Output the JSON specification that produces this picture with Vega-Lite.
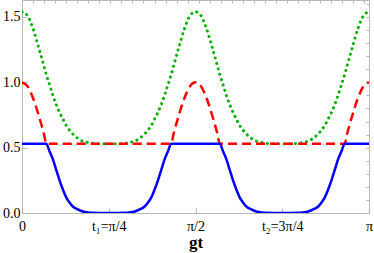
{
  "$schema": "https://vega.github.io/schema/vega-lite/v6.json",
  "width": 347,
  "height": 213,
  "autosize": "none",
  "padding": {"left": 22, "top": 0, "right": 5, "bottom": 40},
  "config": {
    "view": {"stroke": "#b8b8b8", "strokeWidth": 1},
    "axis": {"domain": false, "grid": false, "tickColor": "#b8b8b8", "labelFont": "Liberation Serif, serif", "labelFontSize": 14, "labelColor": "#000000", "titleFont": "Liberation Serif, serif", "titleColor": "#000000"}
  },
  "data": {"values": [
    {"t": 0, "b": 0.53, "r": 1.0, "g": 1.54},
    {"t": 0.05, "b": 0.53, "r": 0.97, "g": 1.51},
    {"t": 0.1, "b": 0.53, "r": 0.88, "g": 1.41},
    {"t": 0.15, "b": 0.53, "r": 0.75, "g": 1.27},
    {"t": 0.2, "b": 0.53, "r": 0.6, "g": 1.12},
    {"t": 0.22, "b": 0.53, "r": 0.53, "g": 1.06},
    {"t": 0.25, "b": 0.47, "r": 0.53, "g": 0.98},
    {"t": 0.28, "b": 0.41, "r": 0.53, "g": 0.9},
    {"t": 0.31, "b": 0.33, "r": 0.53, "g": 0.83},
    {"t": 0.34, "b": 0.25, "r": 0.53, "g": 0.77},
    {"t": 0.37, "b": 0.18, "r": 0.53, "g": 0.72},
    {"t": 0.4, "b": 0.12, "r": 0.53, "g": 0.67},
    {"t": 0.43, "b": 0.08, "r": 0.53, "g": 0.635},
    {"t": 0.46, "b": 0.05, "r": 0.53, "g": 0.605},
    {"t": 0.5, "b": 0.03, "r": 0.53, "g": 0.575},
    {"t": 0.55, "b": 0.012, "r": 0.53, "g": 0.55},
    {"t": 0.6, "b": 0.004, "r": 0.53, "g": 0.54},
    {"t": 0.65, "b": 0.001, "r": 0.53, "g": 0.532},
    {"t": 0.7, "b": 0, "r": 0.53, "g": 0.53},
    {"t": 0.7854, "b": 0, "r": 0.53, "g": 0.53},
    {"t": 0.8708, "b": 0, "r": 0.53, "g": 0.53},
    {"t": 0.9208, "b": 0.001, "r": 0.53, "g": 0.532},
    {"t": 0.9708, "b": 0.004, "r": 0.53, "g": 0.54},
    {"t": 1.0208, "b": 0.012, "r": 0.53, "g": 0.55},
    {"t": 1.0708, "b": 0.03, "r": 0.53, "g": 0.575},
    {"t": 1.1108, "b": 0.05, "r": 0.53, "g": 0.605},
    {"t": 1.1408, "b": 0.08, "r": 0.53, "g": 0.635},
    {"t": 1.1708, "b": 0.12, "r": 0.53, "g": 0.67},
    {"t": 1.2008, "b": 0.18, "r": 0.53, "g": 0.72},
    {"t": 1.2308, "b": 0.25, "r": 0.53, "g": 0.77},
    {"t": 1.2608, "b": 0.33, "r": 0.53, "g": 0.83},
    {"t": 1.2908, "b": 0.41, "r": 0.53, "g": 0.9},
    {"t": 1.3208, "b": 0.47, "r": 0.53, "g": 0.98},
    {"t": 1.3508, "b": 0.53, "r": 0.53, "g": 1.06},
    {"t": 1.3708, "b": 0.53, "r": 0.6, "g": 1.12},
    {"t": 1.4208, "b": 0.53, "r": 0.75, "g": 1.27},
    {"t": 1.4708, "b": 0.53, "r": 0.88, "g": 1.41},
    {"t": 1.5208, "b": 0.53, "r": 0.97, "g": 1.51},
    {"t": 1.5708, "b": 0.53, "r": 1.0, "g": 1.54},
    {"t": 1.6208, "b": 0.53, "r": 0.97, "g": 1.51},
    {"t": 1.6708, "b": 0.53, "r": 0.88, "g": 1.41},
    {"t": 1.7208, "b": 0.53, "r": 0.75, "g": 1.27},
    {"t": 1.7708, "b": 0.53, "r": 0.6, "g": 1.12},
    {"t": 1.7908, "b": 0.53, "r": 0.53, "g": 1.06},
    {"t": 1.8208, "b": 0.47, "r": 0.53, "g": 0.98},
    {"t": 1.8508, "b": 0.41, "r": 0.53, "g": 0.9},
    {"t": 1.8808, "b": 0.33, "r": 0.53, "g": 0.83},
    {"t": 1.9108, "b": 0.25, "r": 0.53, "g": 0.77},
    {"t": 1.9408, "b": 0.18, "r": 0.53, "g": 0.72},
    {"t": 1.9708, "b": 0.12, "r": 0.53, "g": 0.67},
    {"t": 2.0008, "b": 0.08, "r": 0.53, "g": 0.635},
    {"t": 2.0308, "b": 0.05, "r": 0.53, "g": 0.605},
    {"t": 2.0708, "b": 0.03, "r": 0.53, "g": 0.575},
    {"t": 2.1208, "b": 0.012, "r": 0.53, "g": 0.55},
    {"t": 2.1708, "b": 0.004, "r": 0.53, "g": 0.54},
    {"t": 2.2208, "b": 0.001, "r": 0.53, "g": 0.532},
    {"t": 2.2708, "b": 0, "r": 0.53, "g": 0.53},
    {"t": 2.3562, "b": 0, "r": 0.53, "g": 0.53},
    {"t": 2.4416, "b": 0, "r": 0.53, "g": 0.53},
    {"t": 2.4916, "b": 0.001, "r": 0.53, "g": 0.532},
    {"t": 2.5416, "b": 0.004, "r": 0.53, "g": 0.54},
    {"t": 2.5916, "b": 0.012, "r": 0.53, "g": 0.55},
    {"t": 2.6416, "b": 0.03, "r": 0.53, "g": 0.575},
    {"t": 2.6816, "b": 0.05, "r": 0.53, "g": 0.605},
    {"t": 2.7116, "b": 0.08, "r": 0.53, "g": 0.635},
    {"t": 2.7416, "b": 0.12, "r": 0.53, "g": 0.67},
    {"t": 2.7716, "b": 0.18, "r": 0.53, "g": 0.72},
    {"t": 2.8016, "b": 0.25, "r": 0.53, "g": 0.77},
    {"t": 2.8316, "b": 0.33, "r": 0.53, "g": 0.83},
    {"t": 2.8616, "b": 0.41, "r": 0.53, "g": 0.9},
    {"t": 2.8916, "b": 0.47, "r": 0.53, "g": 0.98},
    {"t": 2.9216, "b": 0.53, "r": 0.53, "g": 1.06},
    {"t": 2.9416, "b": 0.53, "r": 0.6, "g": 1.12},
    {"t": 2.9916, "b": 0.53, "r": 0.75, "g": 1.27},
    {"t": 3.0416, "b": 0.53, "r": 0.88, "g": 1.41},
    {"t": 3.0916, "b": 0.53, "r": 0.97, "g": 1.51},
    {"t": 3.1416, "b": 0.53, "r": 1.0, "g": 1.54}
  ]},
  "layer": [
    {
      "mark": {"type": "line", "color": "#00b000", "strokeWidth": 3, "strokeDash": [0.1, 5.5], "strokeCap": "round", "interpolate": "monotone", "clip": true},
      "encoding": {
        "x": {"field": "t", "type": "quantitative", "scale": {"domain": [0, 3.1416], "nice": false, "zero": false},
              "axis": {"orient": "top", "values": [0.1,0.2,0.3,0.4,0.5,0.6,0.7,0.8,0.9,1.0,1.1,1.2,1.3,1.4,1.5,1.6,1.7,1.8,1.9,2.0,2.1,2.2,2.3,2.4,2.5,2.6,2.7,2.8,2.9,3.0,3.1], "labels": false, "tickSize": -3, "title": null}},
        "y": {"field": "g", "type": "quantitative", "scale": {"domain": [0, 1.63], "nice": false},
              "axis": {"orient": "right", "values": [0.1,0.2,0.3,0.4,0.5,0.6,0.7,0.8,0.9,1.0,1.1,1.2,1.3,1.4,1.5,1.6], "labels": false, "tickSize": -3, "title": null}}
      }
    },
    {
      "mark": {"type": "line", "color": "#ff0000", "strokeWidth": 2.5, "strokeDash": [9, 5], "interpolate": "monotone", "clip": true},
      "encoding": {
        "x": {"field": "t", "type": "quantitative", "axis": null},
        "y": {"field": "r", "type": "quantitative", "axis": null}
      }
    },
    {
      "mark": {"type": "line", "color": "#0000ff", "strokeWidth": 2.5, "interpolate": "monotone", "clip": true},
      "encoding": {
        "x": {"field": "t", "type": "quantitative",
              "axis": {"orient": "bottom", "values": [0, 0.7854, 1.5708, 2.3562, 3.1416], "tickSize": -5, "labelPadding": 11, "labelFlush": false, "labelOverlap": false, "labelBound": false,
                       "labelFont": "Liberation Serif, serif", "labelFontSize": 14,
                       "labelExpr": "datum.value < 0.1 ? '0' : datum.value < 1 ? 't₁=π/4' : datum.value < 2 ? 'π/2' : datum.value < 3 ? 't₂=3π/4' : 'π'",
                       "title": "gt", "titleFont": "Liberation Serif, serif", "titleFontSize": 17, "titleFontWeight": "bold", "titleY": 34, "titleBaseline": "alphabetic"}},
        "y": {"field": "b", "type": "quantitative",
              "axis": {"orient": "left", "values": [0, 0.5, 1.0, 1.5], "format": ".1f", "tickSize": -5, "labelPadding": 7, "labelFlush": false, "labelOverlap": false, "labelBound": false,
                       "labelFont": "Liberation Serif, serif", "labelFontSize": 14, "title": null}}
      }
    }
  ],
  "resolve": {"axis": {"x": "independent", "y": "independent"}}
}
